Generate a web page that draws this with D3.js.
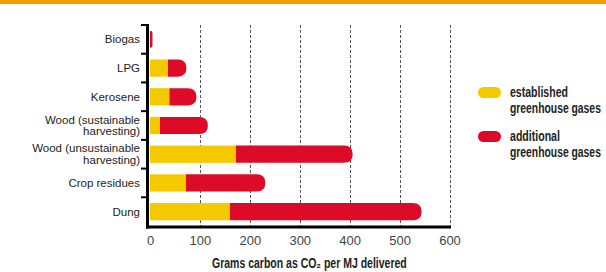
<!DOCTYPE html>
<html>
<head>
<meta charset="utf-8">
<script src="https://cdn.jsdelivr.net/npm/d3@7"></script>
<style>
  body { margin: 0; background: #fff; }
  svg { display: block; }
</style>
</head>
<body>
<div id="chart"></div>
<script>
const categories = ["Biogas", "LPG", "Kerosene", "Wood (sustainable|harvesting)",
                    "Wood (unsustainable|harvesting)", "Crop residues", "Dung"];
const established = [0, 36, 39, 20, 172, 72, 160];
const additional  = [5, 37, 54, 96, 234, 159, 384];
const xTicks = [0, 100, 200, 300, 400, 500, 600];
const legendLabels = [["established", "greenhouse gases"], ["additional", "greenhouse gases"]];
const legendWidths = [[58, 91], [50, 91]];

const W = 606, H = 272;
const YELLOW = "#f5c900", RED = "#dd0a28";
const sans = "'Liberation Sans', Arial, sans-serif";

const svg = d3.select("#chart").append("svg")
  .attr("width", W).attr("height", H);

svg.append("rect").attr("x", 0).attr("y", 0).attr("width", W).attr("height", 4)
  .attr("fill", "#f39c00");

const x = d3.scaleLinear().domain([0, 600]).range([150, 449.5]);
const y = d3.scaleBand().domain(categories).range([25, 226]).paddingInner(0.4).paddingOuter(0.2);
const step = y.step();

// squeeze a bold text horizontally to a target width (condensed look)
function condensed(sel, tx, ty, w) {
  const len = sel.node().getComputedTextLength();
  sel.attr("transform", `translate(${tx},${ty}) scale(${w / len},1)`);
}

// gridlines
svg.append("g").selectAll("line")
  .data(xTicks.filter(d => d > 0))
  .enter().append("line")
  .attr("x1", d => Math.round(x(d)) + 0.5).attr("x2", d => Math.round(x(d)) + 0.5)
  .attr("y1", 25).attr("y2", 226)
  .attr("stroke", "#555").attr("stroke-width", 1).attr("stroke-dasharray", "3,2");

const rows = categories.map((c, i) => ({c, e: established[i], a: additional[i]}));

// yellow part
svg.append("g").selectAll("rect")
  .data(rows).enter().append("rect")
  .attr("x", x(0)).attr("y", d => y(d.c))
  .attr("width", d => x(d.e) - x(0))
  .attr("height", y.bandwidth())
  .attr("fill", YELLOW);

// red part with rounded end
svg.append("g").selectAll("path")
  .data(rows).enter().append("path")
  .attr("d", d => {
    const x0 = x(d.e), x1 = x(d.e + d.a), y0 = y(d.c), h = y.bandwidth();
    const r = Math.min(h / 2, x1 - x0);
    const p = d3.path();
    p.moveTo(x0, y0);
    p.lineTo(x1 - r, y0);
    p.quadraticCurveTo(x1, y0, x1, y0 + r);
    p.lineTo(x1, y0 + h - r);
    p.quadraticCurveTo(x1, y0 + h, x1 - r, y0 + h);
    p.lineTo(x0, y0 + h);
    p.closePath();
    return p.toString();
  })
  .attr("fill", RED);

// x axis
const xAxis = svg.append("g")
  .attr("transform", "translate(0,227)")
  .call(d3.axisBottom(x).tickValues(xTicks).tickSize(0).tickPadding(9));
xAxis.select(".domain").remove();
xAxis.append("line").attr("x1", 146).attr("x2", 451).attr("y1", 0).attr("y2", 0)
  .attr("stroke", "#000").attr("stroke-width", 3);
xAxis.selectAll("text").attr("font-family", sans).attr("font-size", 13).attr("fill", "#444");

// y axis
const yAxis = svg.append("g");
yAxis.append("line").attr("x1", 147.5).attr("x2", 147.5).attr("y1", 24).attr("y2", 228.5)
  .attr("stroke", "#000").attr("stroke-width", 3);
yAxis.selectAll(".tk")
  .data(d3.range(categories.length))
  .enter().append("line")
  .attr("x1", 141).attr("x2", 147)
  .attr("y1", i => 25 + i * step).attr("y2", i => 25 + i * step)
  .attr("stroke", "#000").attr("stroke-width", 2);

// category labels, one text per line
categories.forEach(c => {
  const parts = c.split("|");
  const cy = y(c) + y.bandwidth() / 2;
  parts.forEach((p, j) => {
    yAxis.append("text")
      .attr("x", 140)
      .attr("y", cy + 4 + (j - (parts.length - 1) / 2) * 11.5)
      .attr("text-anchor", "end")
      .attr("font-family", sans).attr("font-size", 11.5).attr("fill", "#222")
      .text(p);
  });
});

// axis title (condensed bold)
const title = svg.append("text")
  .attr("font-family", sans).attr("font-weight", "bold").attr("font-size", 14).attr("fill", "#222")
  .text("Grams carbon as CO₂ per MJ delivered");
condensed(title, 212, 268, 195);

// legend
const legend = svg.append("g");
[YELLOW, RED].forEach((col, i) => {
  const ly = 87 + i * 44;
  legend.append("rect").attr("x", 478).attr("y", ly).attr("width", 23).attr("height", 11)
    .attr("rx", 5.5).attr("fill", col);
  legendLabels[i].forEach((t, j) => {
    const lt = legend.append("text")
      .attr("font-family", sans).attr("font-weight", "bold").attr("font-size", 15).attr("fill", "#222")
      .text(t);
    condensed(lt, 510, ly + 10 + j * 16, legendWidths[i][j]);
  });
});
</script>
</body>
</html>
